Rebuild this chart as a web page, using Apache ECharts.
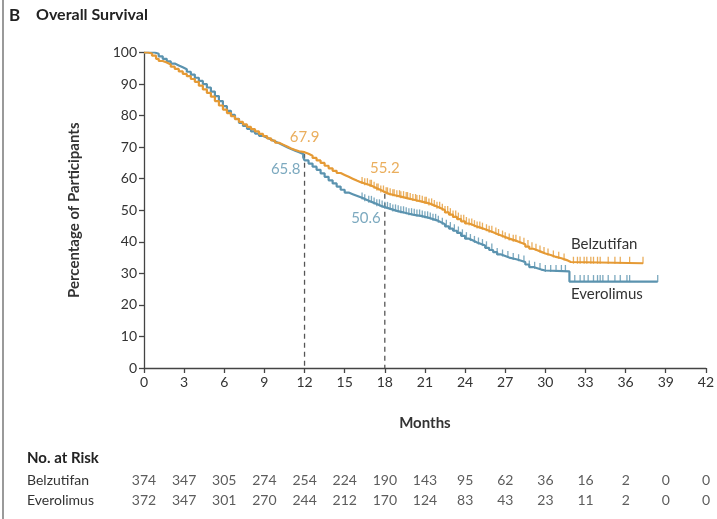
<!DOCTYPE html>
<html><head><meta charset="utf-8">
<script src="https://cdn.jsdelivr.net/npm/echarts@6/dist/echarts.min.js"></script>
<style>html,body{margin:0;padding:0;background:#fff}#c{width:717px;height:519px}</style>
</head><body><div id="c"></div>
<script>
// ---- data ----
const belzMonths = [0,0.3,0.6,0.9,1.1,1.4,1.7,2.0,2.3,2.6,2.9,3.2,3.5,3.8,4.1,4.4,4.7,5.0,5.3,5.6,5.9,6.2,6.5,6.8,7.1,7.4,7.7,8.0,8.3,8.6,8.9,9.2,9.5,9.8,10.1,10.4,10.7,11.0,11.3,11.6,12.0,12.3,12.6,12.9,13.2,13.5,13.8,14.1,14.4,14.7,15.0,15.3,15.6,15.9,16.2,16.5,16.8,17.1,17.4,17.7,18.0,18.3,18.6,18.9,19.2,19.5,19.8,20.1,20.4,20.7,21.0,21.3,21.6,21.9,22.2,22.5,22.8,23.1,23.4,23.7,24.0,24.3,24.6,24.9,25.2,25.5,25.8,26.1,26.4,26.7,27.0,27.3,27.6,27.9,28.2,28.5,28.8,29.1,29.4,29.7,30.0,30.4,30.8,31.2,31.6,31.9,37.3];
const belzSurv   = [100,99.7,99,98,97.3,96.8,96.2,95.5,94.8,94,93.2,92.5,91.6,90.7,89.5,88.3,87.2,86,84.6,83.2,81.9,80.8,79.8,78.9,78,77.2,76.4,75.7,75,74.2,73.5,72.8,72.1,71.4,70.8,70.2,69.6,69.1,68.7,68.4,67.9,67.3,66.6,65.8,65,64.1,63.3,62.5,61.8,61.2,60.6,60,59.4,58.9,58.5,58.1,57.6,57,56.4,55.8,55.2,54.9,54.6,54.3,54,53.7,53.4,53.1,52.8,52.5,52.2,51.7,51.2,50.6,50,49.3,48.6,47.9,47.2,46.5,45.8,45.3,44.8,44.4,44,43.5,43,42.5,42,41.5,41,40.6,40.2,39.7,39.2,38.5,37.8,37.3,36.8,36.3,35.8,35.2,34.8,34.2,33.6,33.2,33.2];
const everMonths = [0,0.5,0.8,1.1,1.4,1.7,2.0,2.3,2.6,2.9,3.2,3.5,3.8,4.1,4.4,4.7,5.0,5.3,5.6,5.9,6.2,6.5,6.8,7.1,7.4,7.7,8.0,8.3,8.6,8.9,9.2,9.5,9.8,10.1,10.4,10.7,11.0,11.3,11.6,11.9,12.0,12.3,12.6,12.9,13.2,13.5,13.8,14.1,14.4,14.7,15.0,15.3,15.6,15.9,16.2,16.5,16.8,17.1,17.4,17.7,18.0,18.3,18.6,18.9,19.2,19.5,19.8,20.1,20.4,20.7,21.0,21.3,21.6,21.9,22.2,22.5,22.8,23.1,23.4,23.7,24.0,24.3,24.6,24.9,25.2,25.5,25.8,26.1,26.4,26.7,27.0,27.3,27.6,27.9,28.2,28.5,28.8,29.1,29.4,29.7,30.0,31.8,38.4];
const everSurv   = [100,100,99.6,98.8,98,97.2,96.5,95.9,95.3,94.7,93.9,93,92,91,90,88.9,87.6,86.2,84.6,83,81.5,80.2,79,77.7,76.7,75.8,75,74.3,73.6,73,72.4,71.8,71.2,70.6,70,69.4,68.9,68.4,67.8,66.8,65.8,64.8,63.8,62.8,61.7,60.6,59.5,58.5,57.5,56.5,55.6,55.1,54.6,54.1,53.6,53,52.5,52,51.4,51,50.6,50.2,49.8,49.5,49.2,48.9,48.6,48.4,48.2,47.9,47.6,47.2,46.8,46.2,45.6,44.9,44.2,43.5,42.8,41.9,41,40.4,39.8,39.3,38.8,38.1,37.4,36.7,36,35.5,35,34.7,34.4,34,33.6,32.8,32,31.6,31.2,30.9,30.6,27.4,27.4];
const belzCensor = [16.3,16.5,16.7,16.9,17.0,17.2,17.4,17.5,17.7,17.9,18.1,18.2,18.4,18.6,18.7,18.9,19.1,19.2,19.4,19.6,19.7,19.9,20.1,20.3,20.4,20.6,20.8,21.0,21.1,21.3,21.5,21.7,21.9,22.1,22.3,22.5,22.7,22.9,23.1,23.3,23.5,23.7,23.9,24.1,24.3,24.5,24.7,24.9,25.1,25.3,25.6,25.8,26.0,26.3,26.5,26.8,27.0,27.3,27.6,27.8,28.1,28.4,28.7,29.0,29.3,29.6,29.9,30.2,30.6,31.0,31.4,32.1,32.4,32.6,32.9,33.1,33.4,33.6,33.9,34.1,34.7,35.2,35.6,36.3,37.3];
const everCensor = [16.3,16.5,16.8,17.0,17.2,17.4,17.6,17.8,18.0,18.2,18.4,18.6,18.8,19.0,19.2,19.4,19.6,19.8,20.0,20.2,20.4,20.6,20.8,21.0,21.2,21.4,21.6,21.8,22.0,22.3,22.6,22.9,23.2,23.5,23.8,24.1,24.4,24.7,25.0,25.3,25.6,26.0,26.4,26.8,27.2,27.6,28.0,28.4,28.8,29.2,29.6,30.0,30.4,30.8,31.2,31.5,32.2,32.6,32.9,33.2,33.6,33.9,34.1,34.3,34.7,35.2,35.6,36.1,36.3,38.4];
const milestoneMonths = [12, 18];
const belzMilestone = [67.9, 55.2];
const everMilestone = [65.8, 50.6];
const riskMonths = [0,3,6,9,12,15,18,21,24,27,30,33,36,39,42];
const belzRisk = [374,347,305,274,254,224,190,143,95,62,36,16,2,0,0];
const everRisk = [372,347,301,270,244,212,170,124,83,43,23,11,2,0,0];
const seriesNames = ['Belzutifan','Everolimus'];

// ---- helpers ----
const ORANGE = '#E59A35', BLUE = '#5B93AF', TXT = '#333', FONT = 'Lato';
const zip = (a,b) => a.map((v,i)=>[v,b[i]]);
function stepValue(ms, ss, t){ let v = ss[0]; for(let i=0;i<ms.length;i++){ if(ms[i] <= t) v = ss[i]; } return v; }
const censorPts = (cs, ms, ss) => cs.map(t => [t, stepValue(ms, ss, t)]);

const chart = echarts.init(document.getElementById('c'), null, {renderer:'canvas'});
const axisLineStyle = {color:'#444', width:1.3};
const option = {
  animation:false,
  textStyle:{fontFamily:FONT},
  grid:[
    {left:144, right:11, top:52.5, bottom:151},
    {left:144, right:11, top:470, height:40}
  ],
  xAxis:[
    {gridIndex:0, type:'value', min:0, max:42, interval:3,
     name:'Months', nameLocation:'middle', nameGap:48,
     nameTextStyle:{fontFamily:FONT, fontWeight:'bold', fontSize:15, color:TXT},
     axisLine:{lineStyle:axisLineStyle}, axisTick:{length:5, lineStyle:axisLineStyle},
     axisLabel:{fontFamily:FONT, fontSize:14, color:TXT, margin:7}, splitLine:{show:false}},
    {gridIndex:1, type:'value', min:0, max:42, interval:3, show:false}
  ],
  yAxis:[
    {gridIndex:0, type:'value', min:0, max:100, interval:10,
     name:'Percentage of Participants', nameLocation:'middle', nameGap:62, nameRotate:90,
     nameTextStyle:{fontFamily:FONT, fontWeight:'bold', fontSize:15, color:TXT},
     axisLine:{show:true, lineStyle:axisLineStyle}, axisTick:{show:true, length:5, lineStyle:axisLineStyle},
     axisLabel:{fontFamily:FONT, fontSize:14, color:TXT, margin:7}, splitLine:{show:false}},
    {gridIndex:1, type:'category', data:seriesNames, inverse:true,
     axisLine:{show:false}, axisTick:{show:false}, splitLine:{show:false},
     axisLabel:{fontFamily:FONT, fontSize:14, color:TXT, align:'left', margin:117}}
  ],
  graphic:[
    {type:'rect', left:2, top:0, shape:{width:2, height:519}, style:{fill:'#9a9a9a'}},
    {type:'text', left:9, top:7, style:{text:'B', fontFamily:FONT, fontWeight:'bold', fontSize:17, fill:'#222'}},
    {type:'text', left:36, top:7, style:{text:'Overall Survival', fontFamily:FONT, fontWeight:'bold', fontSize:16, fill:'#222'}},
    {type:'text', left:27, top:451, style:{text:'No. at Risk', fontFamily:FONT, fontWeight:'bold', fontSize:15, fill:'#222'}},
    {type:'text', left:571, top:237, style:{text:seriesNames[0], fontFamily:FONT, fontSize:15, fill:TXT}},
    {type:'text', left:571, top:287, style:{text:seriesNames[1], fontFamily:FONT, fontSize:15, fill:TXT}}
  ],
  series:[
    ...milestoneMonths.map((m,i)=>({type:'line', xAxisIndex:0, yAxisIndex:0, symbol:'none', silent:true,
      data:[[m, Math.max(belzMilestone[i], everMilestone[i])],[m,0]],
      lineStyle:{color:'#555', width:1.3, type:[5,4]}, z:1})),
    {type:'line', name:'Everolimus', step:'end', symbol:'none', data:zip(everMonths, everSurv),
     lineStyle:{color:BLUE, width:2.2}, z:2},
    {type:'scatter', symbol:'rect', symbolSize:[1.3,7], symbolOffset:[0,-3], data:censorPts(everCensor, everMonths, everSurv),
     itemStyle:{color:BLUE}, z:2},
    {type:'line', name:'Belzutifan', step:'end', symbol:'none', data:zip(belzMonths, belzSurv),
     lineStyle:{color:ORANGE, width:2.2}, z:3},
    {type:'scatter', symbol:'rect', symbolSize:[1.3,7], symbolOffset:[0,-3], data:censorPts(belzCensor, belzMonths, belzSurv),
     itemStyle:{color:ORANGE}, z:3},
    {type:'scatter', symbolSize:0, z:5,
     data:[
       {value:[milestoneMonths[0], belzMilestone[0]], label:{show:true, position:'top', distance:9, formatter:String(belzMilestone[0]), color:ORANGE}},
       {value:[milestoneMonths[0], everMilestone[0]], label:{show:true, position:'left', distance:4, offset:[0,9], formatter:String(everMilestone[0]), color:BLUE}},
       {value:[milestoneMonths[1], belzMilestone[1]], label:{show:true, position:'top', distance:18, formatter:String(belzMilestone[1]), color:ORANGE}},
       {value:[milestoneMonths[1], everMilestone[1]], label:{show:true, position:'left', distance:4, offset:[0,10], formatter:String(everMilestone[1]), color:BLUE}}
     ],
     label:{fontFamily:FONT, fontSize:15}},
    {type:'scatter', xAxisIndex:1, yAxisIndex:1, symbolSize:0,
     data:riskMonths.map((m,i)=>[m, seriesNames[0], belzRisk[i]]).concat(riskMonths.map((m,i)=>[m, seriesNames[1], everRisk[i]])),
     label:{show:true, position:'inside', formatter:p=>String(p.value[2]), fontFamily:FONT, fontSize:14, color:TXT}}
  ]
};
chart.setOption(option);
</script></body></html>
